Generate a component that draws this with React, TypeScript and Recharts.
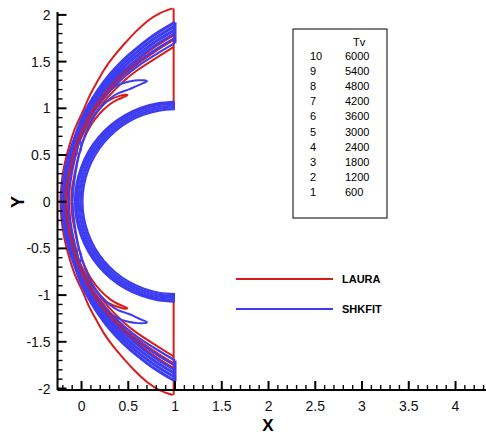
import React from 'react'
import { LineChart, Line, XAxis, YAxis } from 'recharts'

type Pt = [number, number]

// Tv contour traces, upper half only (y >= 0), read from x = 1 round to the nose.
// The plot is symmetric about y = 0, so the lower half is the mirror image.

// LAURA (red)
const lauraShock: Pt[] = [[0.975, 2.07], [0.84, 2.02], [0.7, 1.93], [0.57, 1.81], [0.45, 1.68], [0.34, 1.55], [0.24, 1.41], [0.16, 1.27], [0.08, 1.12], [0.02, 0.98], [-0.05, 0.83], [-0.1, 0.7], [-0.15, 0.53], [-0.19, 0.36], [-0.215, 0.18], [-0.225, 0]]
const lauraBandA: Pt[] = [[0.99, 1.78], [0.8, 1.66], [0.6, 1.51], [0.45, 1.385], [0.3, 1.23], [0.18, 1.08], [0.08, 0.925], [0.0, 0.765], [-0.045, 0.66], [-0.11, 0.44], [-0.155, 0.215], [-0.175, 0]]
const lauraBandB: Pt[] = [[0.99, 1.73], [0.8, 1.61], [0.6, 1.47], [0.45, 1.35], [0.3, 1.195], [0.18, 1.045], [0.08, 0.89], [0.0, 0.73], [-0.04, 0.63], [-0.1, 0.42], [-0.145, 0.21], [-0.16, 0]]
const lauraBandC: Pt[] = [[0.99, 1.66], [0.8, 1.54], [0.6, 1.41], [0.45, 1.29], [0.3, 1.14], [0.18, 0.99], [0.08, 0.845], [0.0, 0.69], [-0.04, 0.59], [-0.09, 0.4], [-0.13, 0.2], [-0.14, 0]]
const lauraFinger: Pt[] = [[0.2, 1.02], [0.3, 1.09], [0.4, 1.13], [0.46, 1.145], [0.49, 1.14], [0.45, 1.12], [0.38, 1.09], [0.3, 1.04], [0.2, 0.95], [0.1, 0.82], [0.03, 0.68], [-0.03, 0.5], [-0.07, 0.32], [-0.1, 0.15], [-0.11, 0]]
const lauraHook: Pt[] = [[-0.085, 0.45], [-0.068, 0.555], [-0.06, 0.6], [-0.05, 0.585], [-0.052, 0.5]]
const lauraWall: Pt[] = [[0.975, 1.06], [0.816, 1.044], [0.637, 0.996], [0.47, 0.918], [0.318, 0.812], [0.188, 0.681], [0.082, 0.53], [0.004, 0.363], [-0.044, 0.184], [-0.06, 0]]
const lauraEdge: Pt[] = [[0.985, 2.07], [0.985, 1.0]]

// SHKFIT (blue)
const shkBand1: Pt[] = [[1.0, 1.92], [0.8, 1.8], [0.6, 1.65], [0.45, 1.52], [0.3, 1.36], [0.18, 1.2], [0.08, 1.04], [0.0, 0.88], [-0.05, 0.75], [-0.135, 0.5], [-0.19, 0.25], [-0.21, 0]]
const shkBand2: Pt[] = [[1.0, 1.88], [0.8, 1.76], [0.6, 1.61], [0.45, 1.48], [0.3, 1.32], [0.18, 1.165], [0.08, 1.01], [0.0, 0.85], [-0.05, 0.72], [-0.13, 0.48], [-0.18, 0.24], [-0.2, 0]]
const shkBand3: Pt[] = [[1.0, 1.84], [0.8, 1.72], [0.6, 1.57], [0.45, 1.44], [0.3, 1.28], [0.18, 1.13], [0.08, 0.975], [0.0, 0.815], [-0.045, 0.7], [-0.12, 0.46], [-0.17, 0.23], [-0.19, 0]]
const shkBand4: Pt[] = [[1.0, 1.8], [0.8, 1.68], [0.6, 1.53], [0.45, 1.4], [0.3, 1.25], [0.18, 1.095], [0.08, 0.94], [0.0, 0.78], [-0.045, 0.67], [-0.115, 0.45], [-0.16, 0.22], [-0.18, 0]]
const shkBand5: Pt[] = [[1.0, 1.75], [0.8, 1.63], [0.6, 1.49], [0.45, 1.37], [0.3, 1.215], [0.18, 1.06], [0.08, 0.91], [0.0, 0.75], [-0.04, 0.645], [-0.105, 0.435], [-0.15, 0.21], [-0.17, 0]]
const shkBand6: Pt[] = [[1.0, 1.7], [0.8, 1.58], [0.6, 1.45], [0.45, 1.33], [0.3, 1.18], [0.18, 1.03], [0.08, 0.88], [0.0, 0.72], [-0.04, 0.62], [-0.1, 0.42], [-0.145, 0.2], [-0.16, 0]]
const shkFinger: Pt[] = [[0.22, 1.12], [0.3, 1.19], [0.39, 1.25], [0.5, 1.285], [0.6, 1.3], [0.67, 1.3], [0.7, 1.29], [0.66, 1.27], [0.58, 1.235], [0.5, 1.2], [0.39, 1.16], [0.3, 1.1], [0.2, 1.0], [0.11, 0.87], [0.04, 0.72], [-0.02, 0.53], [-0.06, 0.33], [-0.085, 0.15], [-0.095, 0]]
const shkHook: Pt[] = [[-0.015, 0.53], [-0.002, 0.6], [-0.016, 0.645], [-0.035, 0.6], [-0.065, 0.48], [-0.1, 0.32], [-0.125, 0.15], [-0.135, 0]]
const shkWall1: Pt[] = [[1.0, 0.99], [0.828, 0.975], [0.661, 0.93], [0.505, 0.857], [0.364, 0.758], [0.242, 0.636], [0.143, 0.495], [0.07, 0.339], [0.025, 0.172], [0.01, 0]]
const shkWall2: Pt[] = [[1.0, 1.01], [0.825, 0.995], [0.655, 0.949], [0.495, 0.875], [0.351, 0.774], [0.226, 0.649], [0.125, 0.505], [0.051, 0.345], [0.005, 0.175], [-0.01, 0]]
const shkWall3: Pt[] = [[1.0, 1.03], [0.821, 1.014], [0.648, 0.968], [0.485, 0.892], [0.338, 0.789], [0.211, 0.662], [0.108, 0.515], [0.032, 0.352], [-0.014, 0.179], [-0.03, 0]]
const shkWall4: Pt[] = [[1.0, 1.05], [0.818, 1.034], [0.641, 0.987], [0.475, 0.909], [0.325, 0.804], [0.196, 0.675], [0.091, 0.525], [0.013, 0.359], [-0.034, 0.182], [-0.05, 0]]
const shkWall5: Pt[] = [[1.0, 1.07], [0.814, 1.054], [0.634, 1.005], [0.465, 0.927], [0.312, 0.82], [0.18, 0.688], [0.073, 0.535], [-0.005, 0.366], [-0.054, 0.186], [-0.07, 0]]
const shkEdge: Pt[] = [[1.0, 1.92], [1.0, 1.7]]

// legend table
const levelIds = [10, 9, 8, 7, 6, 5, 4, 3, 2, 1]
const tvLevels = [6000, 5400, 4800, 4200, 3600, 3000, 2400, 1800, 1200, 600]

const RED = '#d81c1c'
const BLUE = '#3c3cf2'
const FONT = '"Liberation Sans", Arial, Helvetica, sans-serif'

// minor ticks every 0.1, labels every 0.5
const xTicks = Array.from({ length: 46 }, (_, i) => (i - 2) / 10)
const yTicks = Array.from({ length: 41 }, (_, i) => (i - 20) / 10)

const whole = (pts: Pt[]) => [...pts, ...pts.slice(0, -1).reverse().map(([x, y]) => [x, -y] as Pt)]
const flip = (pts: Pt[]) => pts.map(([x, y]) => [x, -y] as Pt)
const rows = (pts: Pt[]) => pts.map(([x, y]) => ({ x, y }))

type Series = { key: string; pts: Pt[]; color: string; curve: 'natural' | 'linear'; w?: number }

// red goes down first, blue over it, the two thin LAURA lines inside the band last
const series: Series[] = [
    { key: 'lw', pts: whole(lauraWall), color: RED, curve: 'natural' },
    { key: 'ls', pts: whole(lauraShock), color: RED, curve: 'natural' },
    { key: 'lc', pts: whole(lauraBandC), color: RED, curve: 'natural' },
    { key: 'lf', pts: lauraFinger, color: RED, curve: 'natural' },
    { key: 'lf2', pts: flip(lauraFinger), color: RED, curve: 'natural' },
    { key: 'lh', pts: lauraHook, color: RED, curve: 'natural' },
    { key: 'lh2', pts: flip(lauraHook), color: RED, curve: 'natural' },
    { key: 'le', pts: lauraEdge, color: RED, curve: 'linear' },
    { key: 'le2', pts: flip(lauraEdge), color: RED, curve: 'linear' },

    { key: 's1', pts: whole(shkBand1), color: BLUE, curve: 'natural', w: 3 },
    { key: 's2', pts: whole(shkBand2), color: BLUE, curve: 'natural', w: 3 },
    { key: 's3', pts: whole(shkBand3), color: BLUE, curve: 'natural', w: 3 },
    { key: 's4', pts: whole(shkBand4), color: BLUE, curve: 'natural', w: 3 },
    { key: 's5', pts: whole(shkBand5), color: BLUE, curve: 'natural', w: 3 },
    { key: 's6', pts: whole(shkBand6), color: BLUE, curve: 'natural', w: 2.2 },
    { key: 'sf', pts: shkFinger, color: BLUE, curve: 'natural' },
    { key: 'sf2', pts: flip(shkFinger), color: BLUE, curve: 'natural' },
    { key: 'sh', pts: shkHook, color: BLUE, curve: 'natural' },
    { key: 'sh2', pts: flip(shkHook), color: BLUE, curve: 'natural' },
    { key: 'w1', pts: whole(shkWall1), color: BLUE, curve: 'natural', w: 2.2 },
    { key: 'w2', pts: whole(shkWall2), color: BLUE, curve: 'natural', w: 2.2 },
    { key: 'w3', pts: whole(shkWall3), color: BLUE, curve: 'natural', w: 2.2 },
    { key: 'w4', pts: whole(shkWall4), color: BLUE, curve: 'natural', w: 2.2 },
    { key: 'w5', pts: whole(shkWall5), color: BLUE, curve: 'natural', w: 2.2 },
    { key: 'se', pts: shkEdge, color: BLUE, curve: 'linear', w: 3 },
    { key: 'se2', pts: flip(shkEdge), color: BLUE, curve: 'linear', w: 3 },

    { key: 'la', pts: whole(lauraBandA), color: RED, curve: 'natural', w: 1.1 },
    { key: 'lb', pts: whole(lauraBandB), color: RED, curve: 'natural', w: 1.1 },
]

const isMajor = (v: number) => Math.abs(v * 2 - Math.round(v * 2)) < 1e-6
const fmt = (v: number) => String(Number(v.toFixed(1)))

const XTick = (props: any) => {
    const { x, y, payload } = props
    const v = payload.value
    const major = isMajor(v)
    return (
        <g>
            <line x1={x} y1={y} x2={x} y2={y - (major ? 9 : 5)} stroke="#000" strokeWidth={major ? 2 : 1.4} />
            {major && (
                <text x={x} y={y + 21} textAnchor="middle" fontSize={14} fontFamily={FONT} fill="#111">
                    {fmt(v)}
                </text>
            )}
        </g>
    )
}

const YTick = (props: any) => {
    const { x, y, payload } = props
    const v = payload.value
    const major = isMajor(v)
    return (
        <g>
            <line x1={x} y1={y} x2={x + (major ? 9 : 5)} y2={y} stroke="#000" strokeWidth={major ? 2 : 1.4} />
            {major && (
                <text x={x - 7} y={y + 5} textAnchor="end" fontSize={14} fontFamily={FONT} fill="#111">
                    {fmt(v)}
                </text>
            )}
        </g>
    )
}

const App = () => {
    return (
        <div style={{ position: 'absolute', left: 0, top: 0, width: 486, height: 434, background: '#fff' }}>
            {/* contours run a little past the frame in the original, so don't clip them */}
            <style>{'.recharts-wrapper [clip-path]{clip-path:none !important}'}</style>
            <LineChart width={486} height={434} margin={{ top: 12, right: 0, bottom: 0, left: 0 }}>
                <XAxis
                    type="number"
                    dataKey="x"
                    domain={[-0.257, 4.326]}
                    allowDataOverflow
                    ticks={xTicks}
                    interval={0}
                    tick={<XTick />}
                    tickLine={false}
                    tickSize={0}
                    tickMargin={0}
                    height={44}
                    axisLine={{ stroke: '#000', strokeWidth: 2 }}
                />
                <YAxis
                    type="number"
                    dataKey="y"
                    domain={[-2.016, 2.031]}
                    allowDataOverflow
                    ticks={yTicks}
                    interval={0}
                    tick={<YTick />}
                    tickLine={false}
                    tickSize={0}
                    tickMargin={0}
                    width={57.5}
                    axisLine={{ stroke: '#000', strokeWidth: 2 }}
                />
                {series.map(s => (
                    <Line
                        key={s.key}
                        data={rows(s.pts)}
                        dataKey="y"
                        type={s.curve}
                        stroke={s.color}
                        strokeWidth={s.w ?? 2}
                        dot={false}
                        activeDot={false}
                        isAnimationActive={false}
                    />
                ))}
            </LineChart>
            <svg width={486} height={434} style={{ position: 'absolute', left: 0, top: 0, pointerEvents: 'none' }}>
                <text x={18} y={202} transform="rotate(-90 18 202)" textAnchor="middle" dominantBaseline="central" fontSize={18} fontWeight="bold" fontFamily={FONT}>Y</text>
                <text x={268} y={431} textAnchor="middle" fontSize={17} fontWeight="bold" fontFamily={FONT}>X</text>

                <rect x={293} y={29} width={94} height={189} fill="#fff" stroke="#000" strokeWidth={1} />
                <text x={353} y={46} fontSize={11} fontFamily={FONT}>Tv</text>
                {levelIds.map((id, i) => (
                    <g key={id} fontSize={11} fontFamily={FONT}>
                        <text x={310} y={60 + i * 15.1}>{id}</text>
                        <text x={345} y={60 + i * 15.1}>{tvLevels[i]}</text>
                    </g>
                ))}

                <line x1={236} y1={279} x2={333} y2={279} stroke={RED} strokeWidth={2} />
                <text x={342} y={283} fontSize={11} fontWeight="bold" fontFamily={FONT}>LAURA</text>
                <line x1={236} y1={309} x2={333} y2={309} stroke={BLUE} strokeWidth={2} />
                <text x={342} y={313} fontSize={11} fontWeight="bold" fontFamily={FONT}>SHKFIT</text>
            </svg>
        </div>
    )
}

export default App
